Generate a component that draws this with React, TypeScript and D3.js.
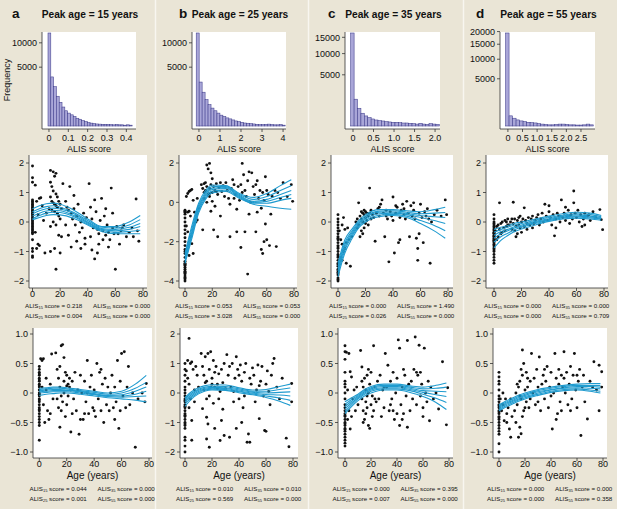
import { useEffect, useRef } from 'react';
import * as d3 from 'd3';

type Pt = [number, number];

const W = 617;
const H = 509;
const BG = '#eae5d6';
const FONT = '"Liberation Sans", Arial, Helvetica, sans-serif';
const CURVE_COLOR = '#1f9bcf';

const PANEL_LETTERS = ['a', 'b', 'c', 'd'];
const PEAK_AGES = [15, 25, 35, 55];

// ---- histograms of ALIS score (bin start, bin width, counts) ----
const HIST_START = [-0.005, -0.13, -0.056, -0.08];
const HIST_BIN = [0.0145, 0.141, 0.083, 0.12];
const histA = [12500, 3480, 2230, 1280, 810, 520, 335, 240, 180, 130, 87, 66, 42, 28, 16, 12, 8, 6, 5, 4, 4, 3, 3, 2, 3, 2, 2, 1, 2, 1];
const histB = [12500, 2790, 1650, 1000, 655, 463, 335, 240, 170, 130, 95, 73, 53, 37, 28, 20, 13, 11, 8, 6, 4, 3, 3, 4, 5, 3, 2, 2, 3, 1];
const histC = [16500, 1370, 600, 310, 193, 134, 94, 69, 55, 48, 36, 31, 26, 26, 21, 17, 17, 14, 10, 7, 14, 7, 5, 10, 7, 5];
const histD = [19400, 231, 136, 83, 58, 43, 31, 26, 21, 12, 8, 5, 3, 3, 5, 8, 8, 5, 3, 3, 2, 2, 3, 8, 3];
const HIST_COUNTS = [histA, histB, histC, histD];
const HIST_X_DOMAIN: [number, number][] = [[-0.036, 0.45], [-0.33, 4.14], [-0.195, 2.12], [-0.27, 2.98]];
const HIST_X_TICKS = [[0, 0.1, 0.2, 0.3, 0.4], [0, 1, 2, 3, 4], [0, 0.5, 1, 1.5, 2], [0, 0.5, 1, 1.5, 2, 2.5]];
const HIST_Y_TICKS = [[5000, 10000], [5000, 10000], [5000, 10000, 15000], [5000, 10000, 15000, 20000]];

// ---- fitted curves, values at CURVE_AGES ----
const CURVE_AGES = [0, 5, 10, 15, 20, 30, 40, 50, 60, 70, 78];
const curvesMidA = [
  [0.45, 0.55, 0.62, 0.64, 0.6, 0.4, 0.1, -0.15, -0.15, 0.0, 0.22],
  [0.35, 0.45, 0.52, 0.55, 0.5, 0.32, 0.05, -0.18, -0.2, -0.1, 0.08],
  [0.28, 0.38, 0.45, 0.47, 0.44, 0.28, 0.0, -0.22, -0.25, -0.18, -0.05],
  [0.2, 0.3, 0.37, 0.4, 0.38, 0.22, -0.03, -0.25, -0.3, -0.25, -0.15],
  [0.12, 0.22, 0.3, 0.33, 0.32, 0.18, -0.07, -0.28, -0.35, -0.32, -0.28],
  [0.08, 0.15, 0.22, 0.25, 0.24, 0.12, -0.1, -0.32, -0.4, -0.4, -0.4],
];
const curvesMidB = [
  [-2.6, -1.2, -0.05, 0.6, 0.88, 0.85, 0.45, 0.25, 0.45, 0.85, 1.15],
  [-2.7, -1.35, -0.15, 0.5, 0.8, 0.8, 0.4, 0.15, 0.3, 0.6, 0.85],
  [-2.8, -1.5, -0.25, 0.42, 0.72, 0.75, 0.35, 0.05, 0.15, 0.4, 0.6],
  [-2.9, -1.6, -0.35, 0.35, 0.65, 0.7, 0.3, 0.0, 0.05, 0.25, 0.4],
  [-3.0, -1.72, -0.45, 0.25, 0.57, 0.62, 0.25, -0.05, -0.05, 0.1, 0.2],
  [-3.1, -1.85, -0.55, 0.15, 0.48, 0.55, 0.2, -0.1, -0.2, -0.3, -0.35],
];
const curvesMidC = [
  [-1.4, -0.6, -0.25, 0.05, 0.25, 0.42, 0.42, 0.38, 0.35, 0.42, 0.5],
  [-1.5, -0.7, -0.32, 0.0, 0.2, 0.37, 0.38, 0.33, 0.28, 0.3, 0.32],
  [-1.58, -0.78, -0.38, -0.05, 0.15, 0.33, 0.34, 0.29, 0.22, 0.18, 0.15],
  [-1.66, -0.86, -0.44, -0.1, 0.1, 0.28, 0.3, 0.25, 0.15, 0.05, -0.05],
  [-1.75, -0.95, -0.5, -0.15, 0.05, 0.23, 0.26, 0.2, 0.05, -0.12, -0.3],
  [-1.85, -1.05, -0.58, -0.2, 0.0, 0.18, 0.22, 0.15, -0.05, -0.3, -0.55],
];
const curvesMidD = [
  [-0.25, -0.18, -0.12, -0.04, 0.0, 0.1, 0.2, 0.28, 0.33, 0.3, 0.22],
  [-0.35, -0.25, -0.18, -0.1, -0.05, 0.06, 0.15, 0.23, 0.28, 0.25, 0.18],
  [-0.45, -0.32, -0.25, -0.16, -0.1, 0.02, 0.11, 0.2, 0.24, 0.2, 0.15],
  [-0.55, -0.4, -0.3, -0.2, -0.14, -0.02, 0.08, 0.17, 0.2, 0.17, 0.12],
  [-0.68, -0.5, -0.38, -0.26, -0.18, -0.05, 0.05, 0.14, 0.17, 0.14, 0.1],
  [-0.88, -0.62, -0.46, -0.32, -0.24, -0.1, 0.02, 0.1, 0.13, 0.1, 0.06],
];
const curvesBotA = [
  [0.08, 0.09, 0.1, 0.1, 0.09, 0.06, 0.03, 0.0, 0.03, 0.15, 0.3],
  [0.06, 0.07, 0.08, 0.08, 0.07, 0.04, 0.01, -0.02, 0.0, 0.08, 0.18],
  [0.04, 0.05, 0.06, 0.06, 0.05, 0.03, -0.01, -0.04, -0.03, 0.03, 0.1],
  [0.02, 0.03, 0.04, 0.04, 0.04, 0.02, -0.02, -0.05, -0.05, -0.02, 0.03],
  [0.0, 0.01, 0.02, 0.02, 0.02, 0.0, -0.03, -0.06, -0.07, -0.06, -0.05],
  [-0.04, -0.02, -0.01, 0.0, 0.0, -0.02, -0.05, -0.08, -0.1, -0.12, -0.15],
];
const curvesBotB = [
  [-0.15, 0.05, 0.18, 0.25, 0.28, 0.27, 0.18, 0.1, 0.12, 0.22, 0.3],
  [-0.2, 0.0, 0.13, 0.2, 0.23, 0.22, 0.14, 0.06, 0.06, 0.12, 0.17],
  [-0.25, -0.05, 0.09, 0.16, 0.19, 0.18, 0.1, 0.03, 0.0, 0.02, 0.04],
  [-0.3, -0.1, 0.05, 0.13, 0.16, 0.15, 0.07, 0.0, -0.05, -0.07, -0.1],
  [-0.37, -0.15, 0.01, 0.1, 0.13, 0.12, 0.04, -0.03, -0.1, -0.17, -0.25],
  [-0.45, -0.2, -0.03, 0.07, 0.1, 0.09, 0.01, -0.06, -0.15, -0.28, -0.42],
];
const curvesBotC = [
  [-0.15, -0.08, -0.02, 0.06, 0.11, 0.15, 0.15, 0.12, 0.1, 0.13, 0.17],
  [-0.19, -0.11, -0.04, 0.04, 0.09, 0.13, 0.13, 0.1, 0.07, 0.08, 0.1],
  [-0.23, -0.14, -0.06, 0.02, 0.07, 0.11, 0.11, 0.08, 0.04, 0.03, 0.02],
  [-0.27, -0.17, -0.08, 0.0, 0.05, 0.09, 0.09, 0.06, 0.01, -0.03, -0.06],
  [-0.31, -0.2, -0.1, -0.02, 0.03, 0.07, 0.07, 0.04, -0.02, -0.09, -0.16],
  [-0.35, -0.23, -0.13, -0.05, 0.0, 0.05, 0.05, 0.01, -0.06, -0.16, -0.28],
];
const curvesBotD = [
  [-0.2, -0.14, -0.09, -0.04, 0.0, 0.06, 0.1, 0.13, 0.15, 0.16, 0.16],
  [-0.22, -0.16, -0.11, -0.06, -0.02, 0.04, 0.08, 0.11, 0.13, 0.13, 0.13],
  [-0.24, -0.18, -0.13, -0.08, -0.04, 0.02, 0.06, 0.09, 0.11, 0.11, 0.1],
  [-0.26, -0.2, -0.15, -0.1, -0.06, 0.0, 0.05, 0.08, 0.09, 0.08, 0.07],
  [-0.28, -0.22, -0.17, -0.12, -0.08, -0.02, 0.03, 0.06, 0.07, 0.05, 0.03],
  [-0.3, -0.24, -0.19, -0.14, -0.1, -0.04, 0.01, 0.04, 0.05, 0.03, 0.0],
];

// ---- scatter points: values at age 0, then [age, value] ----
const zeroMidA = [1.9, 1.5, 1.35, 0.75, 0.7, 0.65, 0.6, 0.55, 0.5, 0.45, 0.4, 0.35, 0.3, 0.25, 0.2, 0.15, 0.1, 0.05, 0.0, -0.05, -0.1, -0.15, -0.2, -0.25, -0.3, -0.35, -0.4, -0.6, -0.9, -1.0, -1.15, -1.2];
const ptsMidA: Pt[] = [
  [2, 1.25], [3, 0.7], [5, 0.8], [6, 0.82], [7, 0.55], [2, -0.35], [4, -0.75], [5, -0.8], [3, -0.9], [9, -1.05], [8, 0.05], [4, 0.25], [10, 0.3],
  [13, 1.75], [15, 1.7], [17, 1.65], [16, 1.55], [13, 1.35], [14, 1.2], [15, 1.05], [17, 0.95], [18, 0.85], [13, 0.85], [14, 0.7], [15, 0.65], [16, 0.6],
  [17, 0.55], [18, 0.5], [19, 0.7], [20, 0.6], [21, 0.45], [14, 0.4], [16, 0.35], [18, 0.3], [19, 0.2], [20, 0.1], [15, 0.0], [17, -0.1], [13, -0.15],
  [19, -0.45], [21, -0.5], [16, -0.9], [17, -1.6], [20, -1.05], [22, 1.3], [13, -1.0], [12, 0.45],
  [24, 0.7], [25, 0.5], [26, 0.4], [27, 1.2], [28, 0.3], [29, 0.1], [30, 0.45], [31, -0.1], [32, 0.2], [33, 0.6], [34, -0.35], [35, 0.0], [36, -0.2],
  [37, 0.3], [38, -0.55], [39, 0.15], [26, -0.45], [28, -0.85], [32, -0.65], [35, -0.9], [24, -0.1], [30, 0.9], [38, -0.75],
  [41, 1.3], [42, 0.5], [43, 0.1], [44, -0.2], [45, 0.75], [46, 0.35], [47, -0.25], [48, -0.4], [49, 0.05], [50, 0.8], [51, -0.3], [52, 0.2], [53, -0.45],
  [54, -0.1], [55, -0.35], [56, -0.6], [57, 1.15], [58, -0.2], [59, -0.4], [60, -1.6], [45, -1.25], [43, -0.95], [48, -0.75], [55, -0.85], [47, -1.05],
  [42, -0.5], [51, -0.6], [58, 0.3], [53, 0.45],
  [61, -0.15], [62, -0.4], [63, -0.75], [64, -0.3], [66, -0.1], [68, -0.5], [70, -0.35], [72, -0.2], [75, 0.78], [77, -0.65], [76, -0.3], [65, -0.2], [73, -0.5],
];
const zeroMidB = [-0.4, -0.45, -0.5, -0.6, -0.8, -1.0, -1.2, -1.4, -1.6, -1.8, -2.0, -2.2, -2.4, -2.6, -2.8, -3.0, -3.1, -3.2, -3.3, -3.4, -3.5, -3.6, -3.7, -3.8, -3.9, -4.0, -3.85, -3.55, -3.15, -2.5];
const ptsMidB: Pt[] = [
  [1, 0.3], [2, 0.45], [3, 0.55], [4, 0.6], [5, 0.65], [2, -0.5], [3, -0.45], [4, -0.7], [1, -1.2], [2, -1.5], [4, -1.75], [5, -2.1], [3, -2.7], [6, -2.6],
  [7, -0.5], [8, -1.0], [9, -0.9], [10, -0.3], [6, 0.1], [9, 0.2],
  [12, 0.9], [13, 0.7], [14, 0.5], [15, 1.0], [16, 1.9], [17, 1.7], [18, 1.98], [19, 1.5], [20, 1.2], [15, 0.6], [16, 0.8], [17, 0.4], [18, 0.7], [19, 0.9],
  [20, 0.5], [21, 0.8], [22, 0.6], [23, 0.95], [24, 0.4], [25, 0.75], [26, 1.0], [27, 0.55], [28, 0.85], [29, 0.3], [30, 1.0], [14, 0.2], [16, 0.0], [18, 0.3],
  [20, 0.05], [22, -0.2], [13, -1.4], [21, -1.4], [24, -1.75], [26, -0.7], [19, -0.45], [14, 0.95], [18, 0.45], [23, 0.55],
  [31, 0.6], [32, 0.2], [33, -0.1], [34, 0.7], [35, 1.15], [36, 0.9], [37, 0.4], [38, -0.35], [39, 0.8], [40, 0.1], [41, 0.9], [42, 1.98], [43, 1.4], [44, 0.6],
  [45, 0.3], [46, 1.1], [47, 1.55], [48, 0.0], [49, 1.5], [50, 0.8], [33, -1.75], [38, -1.5], [41, -2.3], [46, -3.65], [44, -1.5], [47, -0.6], [36, 0.2], [42, 0.5],
  [51, 0.4], [52, 0.9], [53, -0.5], [54, 0.2], [55, 0.6], [56, -0.3], [57, 0.5], [58, 0.1], [59, 1.3], [60, 0.6], [52, -1.5], [56, -2.4], [57, -2.6], [58, -2.0],
  [59, -1.1], [60, -1.9], [62, -2.2], [67, -2.25], [64, 0.3], [66, 0.6], [68, 0.5], [70, 0.2], [72, 1.0], [75, 0.3], [78, 0.9], [79, 0.05], [63, -0.6], [53, 1.1], [61, 0.4],
];
const zeroMidC = [0.25, 0.1, 0.0, -0.1, -0.2, -0.3, -0.4, -0.5, -0.6, -0.7, -0.8, -0.9, -1.0, -1.1, -1.2, -1.3, -1.4, -1.5, -1.6, -1.7, -1.8, -1.9, -2.0, -1.95, -1.75, -1.45, -1.15, -0.85, -0.55, -1.65];
const ptsMidC: Pt[] = [
  [1, -0.3], [2, -0.6], [3, -0.75], [4, 0.15], [5, -0.25], [2, -1.2], [3, -1.3], [6, -1.4], [9, -1.5], [4, -1.0], [5, -0.9], [7, -0.2], [8, -0.6], [10, -0.5], [3, -0.1], [6, -0.7],
  [13, 0.0], [14, -0.2], [15, 0.65], [15, -0.1], [16, 0.2], [17, 0.1], [17, -0.3], [18, 0.3], [18, 0.0], [19, 0.25], [19, -0.2], [20, 0.15], [20, 0.35], [21, 0.05],
  [21, 0.3], [22, 0.2], [22, -0.1], [23, 1.15], [24, 0.4], [24, 0.1], [25, 0.25], [16, -0.5], [18, -0.4], [14, 0.1], [19, 0.4], [17, 0.35], [20, -0.05], [23, 0.3],
  [26, 0.15], [27, -0.65], [28, 0.3], [29, 0.45], [30, 0.2], [31, 0.6], [32, 0.75], [33, 0.3], [34, -0.5], [35, 0.4], [36, 0.1], [37, -1.35], [38, 0.35], [39, 0.2],
  [40, 0.85], [41, -1.05], [42, 0.3], [43, 0.5], [44, -0.7], [45, 0.15], [46, 0.4], [47, 0.6], [48, 0.25], [49, 0.1], [50, 0.7], [30, 0.5], [35, 0.2], [40, 0.05],
  [45, -0.6], [42, 0.55], [48, 0.45],
  [51, 0.3], [52, -0.5], [53, 0.55], [54, 0.2], [55, 0.4], [56, 0.1], [57, -0.55], [58, -0.9], [58, -1.3], [59, 0.3], [60, 0.6], [61, 0.15], [62, -0.7], [63, 0.35],
  [64, 0.2], [65, 0.45], [67, -1.4], [68, 0.0], [70, 0.25], [72, 0.4], [75, 0.2], [78, 0.75], [79, 0.25], [66, 0.1], [55, 0.65], [59, -0.4],
];
const zeroMidD = [0.25, 0.1, 0.0, -0.1, -0.2, -0.25, -0.3, -0.35, -0.4, -0.45, -0.5, -0.55, -0.6, -0.65, -0.7, -0.75, -0.8, -0.85, -0.9, -1.0, -1.1, -1.2, -1.3, -1.4, -0.95, -0.15, -0.05, -0.5, -0.62, -0.38];
const ptsMidD: Pt[] = [
  [1, -0.3], [2, -0.15], [3, -0.1], [4, 0.65], [3, -0.5], [4, -0.25], [5, -0.05], [6, 0.0], [7, -0.2], [8, 0.05], [9, -0.15], [10, 0.1], [2, -0.6], [5, -0.4],
  [8, -0.3], [10, -0.1], [6, -0.35], [9, 0.0],
  [11, -0.1], [12, 0.0], [13, -0.25], [14, 0.67], [14, -0.05], [15, 0.1], [15, -0.3], [16, -0.15], [17, 0.05], [17, -0.4], [18, -0.1], [18, 0.15], [19, -0.2],
  [20, 0.0], [20, -0.35], [21, 0.1], [22, 0.48], [22, -0.15], [23, 0.05], [24, -0.05], [25, 0.15], [26, -0.1], [27, 0.1], [28, 0.2], [29, -0.05], [30, 0.05],
  [16, -0.5], [13, 0.1], [19, 0.2], [24, -0.25], [28, -0.2],
  [31, 0.15], [32, 0.25], [33, -0.1], [34, 0.1], [35, 0.3], [36, 0.0], [37, 0.6], [38, 0.2], [39, 0.05], [40, 0.35], [41, 0.15], [42, -0.1], [43, 0.25],
  [44, -0.47], [45, 0.1], [46, 0.3], [47, 0.2], [48, 0.0], [49, 0.75], [50, 0.15], [51, 0.3], [52, 0.05], [53, 0.2], [54, 0.4], [55, -0.05], [56, 0.25],
  [57, 0.1], [58, 1.05], [58, 0.65], [59, 0.3], [60, 0.15], [40, 0.55], [45, -0.2], [52, 0.5], [55, 0.2],
  [61, 0.4], [62, 0.0], [63, 0.25], [64, -0.15], [65, 0.1], [66, 0.3], [68, 0.2], [70, 0.05], [72, 0.35], [74, 0.15], [77, 0.42], [78, 0.08], [79, -0.26], [66, -0.1], [69, 0.25],
];
const zeroBotA = [0.45, 0.4, 0.35, 0.3, 0.25, 0.2, 0.15, 0.1, 0.05, 0.0, -0.05, -0.1, -0.15, -0.2, -0.25, -0.3, -0.35, -0.4, -0.45, -0.5, -0.55, -0.8, 0.22, -0.02, -0.12, 0.12, -0.28, 0.32];
const ptsBotA: Pt[] = [
  [1, 0.58], [2, 0.55], [3, 0.58], [2, 0.1], [3, -0.2], [4, -0.5], [5, 0.05], [6, -0.3], [7, -0.45], [8, 0.15], [9, 0.66], [10, -0.1], [5, 0.25], [8, -0.35],
  [12, 0.68], [13, 0.4], [14, 0.25], [15, 0.45], [16, 0.8], [17, 0.82], [18, 0.6], [19, 0.35], [20, 0.3], [21, 0.15], [22, 0.25], [23, 0.05], [24, 0.2],
  [25, -0.1], [13, -0.1], [14, -0.25], [15, -0.58], [16, -0.3], [17, -0.15], [18, 0.0], [19, -0.4], [20, -0.2], [21, -0.05], [23, -0.66], [24, -0.35],
  [15, 0.1], [18, 0.2], [22, 0.1], [16, -0.05], [20, 0.12],
  [26, 0.35], [27, -0.3], [28, 0.05], [29, -0.7], [30, 0.3], [31, 0.0], [32, -0.45], [33, 0.2], [34, -0.15], [35, 0.55], [36, -0.35], [37, 0.1], [38, 0.3],
  [39, -0.25], [40, 0.05], [41, -0.4], [42, 0.5], [43, -0.1], [44, 0.35], [45, -0.3], [46, 0.15], [47, -0.5], [48, 0.25], [49, -0.2], [50, 0.1], [30, -0.45],
  [35, 0.0], [40, -0.3], [45, 0.4], [33, -0.35],
  [51, -0.3], [52, 0.0], [53, 0.3], [54, -0.25], [55, 0.1], [56, -0.15], [57, 0.55], [58, -0.6], [59, 0.2], [60, 0.67], [61, -0.05], [62, 0.7], [63, -0.25],
  [64, 0.1], [65, 0.45], [66, -0.2], [68, 0.0], [70, -0.92], [72, -0.1], [75, 0.0], [77, -0.15], [78, 0.16], [55, -0.45], [59, -0.3],
];
const zeroBotB = [1.0, 0.8, 0.6, 0.4, 0.2, 0.0, -0.1, -0.2, -0.3, -0.4, -0.5, -0.6, -0.7, -0.8, -0.9, -1.0, -1.1, -1.2, -1.5, -1.6, -1.8, -2.0, -0.45, -0.75, -1.05, 0.1, -0.25];
const ptsBotB: Pt[] = [
  [1, 0.75], [2, 1.1], [3, 1.85], [4, 1.0], [5, 1.05], [2, 0.5], [3, 0.3], [4, -0.2], [5, -0.93], [5, -1.6], [6, 0.8], [7, 0.1], [8, 0.9], [9, 0.6], [10, 0.2],
  [3, -0.5], [7, -0.3],
  [12, 1.34], [13, 0.9], [14, 0.6], [15, 1.23], [16, 0.4], [17, 1.34], [18, 0.8], [19, 1.4], [20, 0.5], [21, 1.1], [22, 0.2], [23, 0.9], [24, 0.3], [25, 0.65],
  [26, 0.05], [27, 0.8], [28, 0.35], [29, 1.0], [30, 0.15], [14, 0.1], [16, -0.2], [18, -0.1], [20, 0.3], [22, 0.7], [13, -0.53], [16, -0.82], [17, -1.05],
  [16, -1.56], [18, -1.84], [22, -1.2], [26, -1.61], [27, -0.93], [29, -1.44], [24, 0.15], [19, 0.2], [21, -0.35], [25, -0.2], [28, -0.55], [15, 0.35],
  [31, 1.3], [32, 0.6], [33, -1.5], [34, 0.2], [35, 1.0], [36, -0.3], [37, 0.5], [38, 1.23], [39, 0.8], [40, -0.2], [41, 0.95], [42, 0.4], [43, -0.5], [44, 0.7],
  [45, 1.0], [46, -1.67], [47, -1.39], [48, -1.67], [49, 0.3], [50, 0.85], [33, 0.9], [36, 0.05], [40, 0.6], [44, -0.1], [48, 0.5], [38, -1.2], [42, -1.0],
  [51, 0.6], [52, -0.3], [53, 0.1], [54, 0.95], [55, -0.87], [56, 0.4], [57, 0.9], [58, -0.1], [59, -1.27], [60, 0.3], [60, -1.3], [61, 0.75], [62, 0.05],
  [63, -0.4], [65, 1.0], [66, 1.17], [68, 0.2], [70, -0.2], [72, 0.5], [75, -1.53], [77, -1.82], [79, 0.32], [79, -0.3], [64, 0.6], [55, 0.25],
];
const zeroBotC = [0.8, 0.7, 0.57, 0.35, 0.2, 0.1, 0.0, -0.1, -0.2, -0.25, -0.3, -0.35, -0.4, -0.45, -0.5, -0.55, -0.6, -0.65, -0.7, -0.75, -0.8, -0.85, -0.9, -0.52, -0.38, -0.62, 0.15];
const ptsBotC: Pt[] = [
  [1, 0.69], [3, 0.67], [4, 0.36], [5, 0.27], [3, -0.3], [4, -0.61], [2, -0.45], [6, -0.1], [7, 0.05], [8, -0.3], [9, 0.1], [10, -0.2], [2, 0.05], [5, -0.4],
  [12, 0.72], [13, 0.44], [13, -0.1], [14, 0.1], [14, -0.3], [15, 0.25], [15, -0.45], [16, -0.15], [16, 0.05], [17, -0.25], [17, 0.3], [18, -0.55], [18, 0.0],
  [19, -0.6], [19, 0.15], [20, -0.2], [20, 0.35], [21, -0.05], [22, 0.8], [22, -0.3], [23, 0.1], [24, -0.15], [25, 0.2], [14, -0.5], [16, -0.35], [18, 0.4],
  [21, -0.4], [23, -0.1], [17, -0.05], [13, 0.2],
  [26, -0.1], [27, 0.3], [28, -0.4], [29, 0.05], [30, -0.25], [31, 0.67], [32, 0.1], [33, 0.47], [34, -0.3], [35, 0.2], [36, -0.1], [37, 0.35], [38, -0.45],
  [39, 0.0], [40, 0.25], [41, 0.9], [42, 0.76], [42, -0.55], [43, -0.2], [44, 0.1], [45, -0.35], [46, 0.3], [47, -0.05], [48, 0.89], [48, -0.58], [49, 0.15],
  [50, -0.3], [30, 0.1], [35, -0.2], [40, -0.35], [45, 0.4], [44, -0.45], [37, -0.3],
  [51, 0.2], [52, -0.1], [53, 0.4], [54, 0.95], [55, -0.2], [56, 0.3], [57, 0.81], [58, -0.05], [59, 0.15], [60, -0.25], [61, 0.76], [62, 0.0], [63, -0.15],
  [65, -0.47], [66, 0.1], [68, -0.1], [70, 0.0], [72, -0.27], [75, 0.53], [78, -0.54], [79, 0.09], [64, 0.2], [58, 0.35], [55, 0.35], [60, -0.4],
];
const zeroBotD = [0.35, 0.27, 0.15, 0.05, -0.05, -0.1, -0.15, -0.2, -0.25, -0.3, -0.35, -0.4, -0.45, -0.5, -0.55, -0.6, -0.65, -0.7, -0.86, -1.0, -0.22, -0.32, 0.2, -0.42];
const ptsBotD: Pt[] = [
  [1, -0.1], [2, -0.3], [3, -0.2], [4, -0.47], [5, -0.1], [6, -0.35], [7, -0.25], [8, -0.61], [9, -0.75], [10, -0.4], [3, 0.0], [6, -0.5], [9, -0.1],
  [12, -0.3], [13, 0.0], [14, -0.2], [15, -0.75], [15, 0.1], [16, -0.58], [16, 0.2], [17, -0.69], [17, -0.1], [18, 0.73], [18, 0.3], [19, -0.3], [19, 0.5],
  [20, 0.05], [21, -0.15], [21, 0.35], [22, 0.1], [23, -0.25], [24, 0.2], [25, 0.67], [14, 0.15], [16, -0.05], [18, -0.4], [20, -0.25], [22, 0.25], [24, -0.1],
  [13, -0.5], [17, 0.4],
  [26, 0.0], [27, 0.25], [28, -0.2], [29, 0.4], [30, 0.1], [31, 0.61], [32, -0.3], [33, 0.15], [34, 0.3], [35, -0.1], [36, 0.2], [37, 0.45], [38, -0.25],
  [39, 0.1], [40, 0.35], [41, -0.61], [42, 0.0], [43, 0.67], [44, 0.25], [45, -0.35], [46, 0.4], [47, -0.15], [48, 0.3], [49, 0.1], [50, 0.7], [30, -0.15],
  [35, 0.4], [40, -0.05], [44, -0.45], [46, 0.15], [48, -0.3], [50, 0.25],
  [51, 0.0], [52, 0.35], [53, -0.2], [54, 0.15], [55, 0.45], [56, -0.1], [57, 0.3], [58, 0.67], [59, 0.05], [60, -0.25], [61, 0.2], [62, 0.4], [63, -0.72],
  [64, 0.1], [65, 0.3], [66, -0.15], [68, -0.44], [70, 0.2], [72, 0.1], [73, 0.53], [75, 0.05], [77, 0.47], [77, -0.3], [79, 0.36], [79, 0.1], [55, -0.3], [60, 0.3],
];

// ---- ALIS scores under each scatter: [ALIS15, ALIS35, ALIS25, ALIS55] ----
const ALIS_LABELS = ['15', '35', '25', '55'];
const alisMid = [[0.218, 0.0, 0.004, 0.0], [0.053, 0.053, 3.028, 0.0], [0.0, 1.49, 0.026, 0.0], [0.0, 0.0, 0.0, 0.709]];
const alisBot = [[0.044, 0.0, 0.001, 0.0], [0.01, 0.01, 0.569, 0.0], [0.0, 0.395, 0.007, 0.0], [0.0, 0.0, 0.0, 0.358]];

// ---- layout (pixels) ----
const SEPARATORS = [155.5, 308.5, 463.5];
const LETTER_X = [12, 179, 328, 476];
const HIST_LEFT = [42, 192, 345, 500];
const HIST_RIGHT = [136, 286, 440, 595];
const MID_BOX: [number, number][] = [[29, 147], [179, 297], [331, 453], [486, 608]];
const MID_AGE_PX: [number, number][] = [[32.5, 143], [185, 294], [338, 448], [494, 604]];
const BOT_BOX: [number, number][] = [[33, 152], [180, 298], [338, 453], [493, 607]];
const BOT_AGE_PX: [number, number][] = [[39.3, 149], [185, 293], [345, 449], [499, 603]];
const MID_Y_DOMAIN: [number, number][] = [[-2, 2], [-4, 2], [-2, 2], [-2, 2]];
const MID_Y_TICKS = [[-2, -1, 0, 1, 2], [-4, -2, 0, 2], [-2, -1, 0, 1, 2], [-2, -1, 0, 1, 2]];
const BOT_Y_DOMAIN: [number, number][] = [[-1, 1], [-2, 2], [-1, 1], [-1, 1]];
const BOT_Y_TICKS = [[-1, -0.5, 0, 0.5, 1], [-2, -1, 0, 1, 2], [-1, -0.5, 0, 0.5, 1], [-1, -0.5, 0, 0.5, 1]];
const AGE_TICKS = [0, 20, 40, 60, 80];

const MIDS = [
  { zero: zeroMidA, pts: ptsMidA, curves: curvesMidA },
  { zero: zeroMidB, pts: ptsMidB, curves: curvesMidB },
  { zero: zeroMidC, pts: ptsMidC, curves: curvesMidC },
  { zero: zeroMidD, pts: ptsMidD, curves: curvesMidD },
];
const BOTS = [
  { zero: zeroBotA, pts: ptsBotA, curves: curvesBotA },
  { zero: zeroBotB, pts: ptsBotB, curves: curvesBotB },
  { zero: zeroBotC, pts: ptsBotC, curves: curvesBotC },
  { zero: zeroBotD, pts: ptsBotD, curves: curvesBotD },
];

const fmtDec = (v: number) => (v === 0 ? '0' : d3.format('.1f')(v));
const fmtInt = d3.format('d');

type Sel = d3.Selection<SVGGElement, unknown, null, undefined>;

function text(g: Sel, x: number, y: number, s: string, size: number, anchor = 'middle') {
  return g
    .append('text')
    .attr('x', x)
    .attr('y', y)
    .attr('text-anchor', anchor)
    .attr('font-family', FONT)
    .attr('font-size', size)
    .attr('fill', '#111')
    .text(s);
}

interface ScatterOpts {
  id: string;
  box: [number, number];
  top: number;
  bottom: number;
  agePx: [number, number];
  yDomain: [number, number];
  yRange: [number, number];
  yTicks: number[];
  yFmt: (v: number) => string;
  zero: number[];
  pts: Pt[];
  curves: number[][];
  alis: number[];
  tickBase: number;
  alisBase: [number, number];
  ageLabel: number | null;
}

function drawScatter(root: Sel, o: ScatterOpts) {
  const g = root.append('g');
  const [left, right] = o.box;
  const x = d3.scaleLinear().domain([0, 80]).range(o.agePx);
  const y = d3.scaleLinear().domain(o.yDomain).range(o.yRange);

  g.append('rect').attr('x', left).attr('y', o.top).attr('width', right - left).attr('height', o.bottom - o.top).attr('fill', '#fff');

  g.append('clipPath').attr('id', o.id).append('rect').attr('x', left).attr('y', o.top).attr('width', right - left).attr('height', o.bottom - o.top);

  const all: Pt[] = o.zero.map((v) => [0, v] as Pt).concat(o.pts);
  g.append('g')
    .selectAll('circle')
    .data(all)
    .enter()
    .append('circle')
    .attr('cx', (d) => x(d[0]))
    .attr('cy', (d) => y(d[1]))
    .attr('r', 1.45)
    .attr('fill', '#111');

  const line = d3
    .line<number>()
    .x((_, i) => x(CURVE_AGES[i]))
    .y((d) => y(d))
    .curve(d3.curveMonotoneX);
  g.append('g')
    .attr('clip-path', `url(#${o.id})`)
    .selectAll('path')
    .data(o.curves)
    .enter()
    .append('path')
    .attr('d', (d) => line(d) || '')
    .attr('fill', 'none')
    .attr('stroke', CURVE_COLOR)
    .attr('stroke-width', 1.1);

  // axes
  const axis = g.append('g').attr('stroke', '#333').attr('stroke-width', 0.8);
  axis.append('line').attr('x1', left).attr('x2', left).attr('y1', o.top).attr('y2', o.bottom);
  axis.append('line').attr('x1', left).attr('x2', right).attr('y1', o.bottom).attr('y2', o.bottom);
  o.yTicks.forEach((t) => {
    axis.append('line').attr('x1', left - 3).attr('x2', left).attr('y1', y(t)).attr('y2', y(t));
    text(g, left - 5, y(t) + 3.2, o.yFmt(t), 9, 'end');
  });
  AGE_TICKS.forEach((t) => {
    axis.append('line').attr('x1', x(t)).attr('x2', x(t)).attr('y1', o.bottom).attr('y2', o.bottom + 3);
    text(g, x(t), o.tickBase, String(t), 9);
  });
  const cx = (left + right) / 2;
  if (o.ageLabel !== null) text(g, cx, o.ageLabel, 'Age (years)', 10);

  // ALIS score lines
  const cols = [cx - 63, cx + 5];
  o.alis.forEach((v, k) => {
    const t = g
      .append('text')
      .attr('x', cols[k % 2])
      .attr('y', o.alisBase[Math.floor(k / 2)])
      .attr('font-family', FONT)
      .attr('font-size', 6.2)
      .attr('fill', '#111');
    t.append('tspan').text('ALIS');
    t.append('tspan').attr('font-size', 4).attr('dy', 1.4).text(ALIS_LABELS[k]);
    t.append('tspan').attr('dy', -1.4).text(` score = ${d3.format('.3f')(v)}`);
  });
}

export default function App() {
  const svgRef = useRef<SVGSVGElement>(null);

  useEffect(() => {
    if (!svgRef.current) return;
    const svg = d3.select(svgRef.current);
    svg.selectAll('*').remove();
    const root = svg.append('g') as unknown as Sel;

    root.append('rect').attr('width', W).attr('height', H).attr('fill', BG);
    SEPARATORS.forEach((sx) => {
      root.append('line').attr('x1', sx).attr('x2', sx).attr('y1', 0).attr('y2', H).attr('stroke', '#f8f6f0').attr('stroke-width', 1.5);
    });

    PANEL_LETTERS.forEach((letter, i) => {
      const hl = HIST_LEFT[i];
      const hr = HIST_RIGHT[i];
      const hc = (hl + hr) / 2;

      // title
      text(root, LETTER_X[i], 18, letter, 13.5, 'start').attr('font-weight', 'bold');
      text(root, hc + 1, 17.5, `Peak age = ${PEAK_AGES[i]} years`, 10.2).attr('font-weight', 'bold');

      // histogram
      const counts = HIST_COUNTS[i];
      const hx = d3.scaleLinear().domain(HIST_X_DOMAIN[i]).range([hl, hr]);
      const hy = d3.scaleSqrt().domain([0, d3.max(counts) as number]).range([126, 33]);
      const hg = root.append('g');
      hg.append('rect').attr('x', hl).attr('y', 32).attr('width', hr - hl).attr('height', 97).attr('fill', '#fff');
      hg.selectAll('rect.bar')
        .data(counts)
        .enter()
        .append('rect')
        .attr('class', 'bar')
        .attr('x', (_, j) => hx(HIST_START[i] + j * HIST_BIN[i]))
        .attr('width', (_, j) => hx(HIST_START[i] + (j + 1) * HIST_BIN[i]) - hx(HIST_START[i] + j * HIST_BIN[i]))
        .attr('y', (d) => hy(d))
        .attr('height', (d) => hy(0) - hy(d))
        .attr('fill', '#a9a6d8')
        .attr('stroke', '#3f3d8c')
        .attr('stroke-width', 0.55);
      const ha = hg.append('g').attr('stroke', '#333').attr('stroke-width', 0.8);
      ha.append('line').attr('x1', hl).attr('x2', hl).attr('y1', 32).attr('y2', 129);
      ha.append('line').attr('x1', hl).attr('x2', hr).attr('y1', 129).attr('y2', 129);
      HIST_Y_TICKS[i].forEach((t) => {
        ha.append('line').attr('x1', hl - 3).attr('x2', hl).attr('y1', hy(t)).attr('y2', hy(t));
        text(hg, hl - 5, hy(t) + 3.2, String(t), 9, 'end');
      });
      const xf = i === 1 ? fmtInt : fmtDec;
      HIST_X_TICKS[i].forEach((t) => {
        ha.append('line').attr('x1', hx(t)).attr('x2', hx(t)).attr('y1', 129).attr('y2', 132);
        text(hg, hx(t), 140.7, xf(t), 9);
      });
      text(hg, hc, 151.5, 'ALIS score', 9);
      if (i === 0) {
        text(hg, 0, 0, 'Frequency', 9).attr('transform', 'translate(10,80) rotate(-90)');
      }

      drawScatter(root, {
        id: `clip-mid-${i}`,
        box: MID_BOX[i],
        top: 155,
        bottom: 288,
        agePx: MID_AGE_PX[i],
        yDomain: MID_Y_DOMAIN[i],
        yRange: [281, 163],
        yTicks: MID_Y_TICKS[i],
        yFmt: fmtInt,
        zero: MIDS[i].zero,
        pts: MIDS[i].pts,
        curves: MIDS[i].curves,
        alis: alisMid[i],
        tickBase: 297,
        alisBase: [307.5, 318],
        ageLabel: null,
      });

      drawScatter(root, {
        id: `clip-bot-${i}`,
        box: BOT_BOX[i],
        top: 328,
        bottom: 458,
        agePx: BOT_AGE_PX[i],
        yDomain: BOT_Y_DOMAIN[i],
        yRange: [452, 334],
        yTicks: BOT_Y_TICKS[i],
        yFmt: i === 1 ? fmtInt : fmtDec,
        zero: BOTS[i].zero,
        pts: BOTS[i].pts,
        curves: BOTS[i].curves,
        alis: alisBot[i],
        tickBase: 467,
        alisBase: [490.5, 501],
        ageLabel: 478.5,
      });
    });
  }, []);

  return <svg ref={svgRef} width={W} height={H} style={{ position: 'absolute', left: 0, top: 0 }} />;
}
